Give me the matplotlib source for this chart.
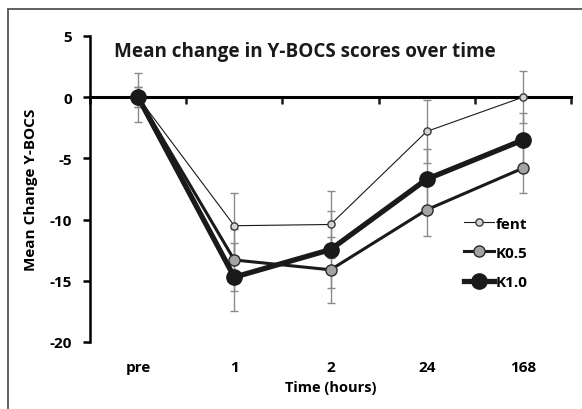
import numpy as np
import matplotlib.pyplot as plt
from matplotlib.patches import Rectangle

plt.rcParams['font.family'] = ['Open Sans', 'DejaVu Sans']

times = ['pre', '1', '2', '24', '168']
fent = [0, -10.5, -10.4, -2.8, 0]
fent_err = [2.0, 2.7, 2.7, 2.6, 2.1]
k05 = [0, -13.3, -14.1, -9.2, -5.8]
k05_err = [0.8, 2.5, 2.7, 2.1, 2.0]
k10 = [0, -14.7, -12.45, -6.7, -3.5]
k10_err = [0.8, 2.8, 3.15, 2.5, 2.25]

x = np.arange(len(times))

fig = plt.figure(figsize=(5.82, 4.10), dpi=100)
ax = fig.add_axes([90/582, 1 - 343/410, 481/582, 306/410])

# outer frame (only left and top show in the picture)
fig.patches.append(Rectangle((8/582, -0.2), 1.2, 1.2 - 10/410,
                             transform=fig.transFigure, fill=False,
                             edgecolor='#555555', lw=1.3))

series = [
    ('fent', fent, fent_err, '#d4d4d4', '#3a3a3a', 0.8, 5.2),
    ('K0.5', k05, k05_err, '#a3a3a3', '#2a2a2a', 2.2, 8),
    ('K1.0', k10, k10_err, '#1a1a1a', '#1a1a1a', 3.8, 11),
]
for i, (name, y, err, face, edge, lw, ms) in enumerate(series):
    ax.errorbar(x, y, yerr=err, fmt='none', ecolor='#8a8a8a', elinewidth=1,
                capsize=2.6, capthick=1, zorder=2 + i)
    ax.plot(x, y, '-o', color='#1a1a1a', lw=lw, ms=ms, mfc=face, mec=edge,
            mew=1, label=name, zorder=5 + i)

ax.set_xlim(-0.5, len(times) - 0.5)
ax.set_ylim(-20, 5)
ax.set_yticks([5, 0, -5, -10, -15, -20])
ax.set_yticklabels(['5', '0', '-5', '-10', '-15', '-20'])

for s in ['top', 'right']:
    ax.spines[s].set_visible(False)
ax.spines['left'].set_linewidth(1.8)
ax.spines['bottom'].set_position(('data', 0))
ax.spines['bottom'].set_linewidth(2.2)

ax.set_xticks(np.arange(len(times) + 1) - 0.5)
ax.set_xticklabels([])
ax.tick_params(axis='x', direction='out', length=5, width=1.8, color='#1a1a1a')
ax.tick_params(axis='y', direction='out', length=5, width=1.8,
               labelsize=11, pad=8)
for t in ax.get_yticklabels():
    t.set_fontweight('bold')

sec = ax.secondary_xaxis('bottom')
sec.set_xticks(x)
sec.set_xticklabels(times, fontweight='bold', fontsize=11)
sec.tick_params(length=0, pad=13)
sec.spines['bottom'].set_visible(False)
sec.set_xlabel('Time (hours)', fontweight='bold', fontsize=10.5, labelpad=4)

ax.set_ylabel('Mean Change Y-BOCS', fontweight='bold', fontsize=11, labelpad=8)

ax.text(0.05, 0.95, 'Mean change in Y-BOCS scores over time', transform=ax.transAxes,
        fontsize=13.6, fontweight='bold', va='center', ha='left', color='#1a1a1a')

ax.legend(loc='upper left', bbox_to_anchor=(0.748, 0.455), frameon=False,
          prop={'weight': 'bold', 'size': 11}, handlelength=2.0,
          handletextpad=0.1, labelspacing=1.0)

fig.savefig('out.png', dpi=100)
